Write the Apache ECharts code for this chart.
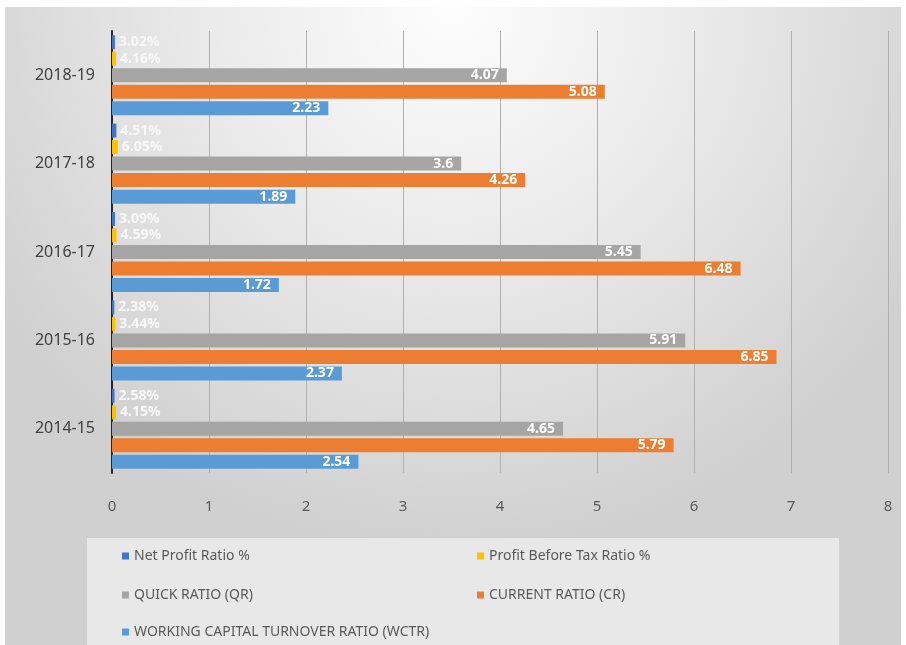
<!DOCTYPE html>
<html>
<head>
<meta charset="utf-8">
<script src="https://cdn.jsdelivr.net/npm/echarts@6/dist/echarts.min.js"></script>
<style>
html,body{margin:0;padding:0;background:#ffffff;}
#c{width:906px;height:645px;}
</style>
</head>
<body>
<div id="c"></div>
<script>
var categories = ['2014-15', '2015-16', '2016-17', '2017-18', '2018-19'];
var netProfitPct = [2.58, 2.38, 3.09, 4.51, 3.02];
var pbtPct = [4.15, 3.44, 4.59, 6.05, 4.16];
var quickRatio = [4.65, 5.91, 5.45, 3.6, 4.07];
var currentRatio = [5.79, 6.85, 6.48, 4.26, 5.08];
var wctr = [2.54, 2.37, 1.72, 1.89, 2.23];
var seriesNames = ['Net Profit Ratio %', 'Profit Before Tax Ratio %', 'QUICK RATIO (QR)', 'CURRENT RATIO (CR)', 'WORKING CAPITAL TURNOVER RATIO (WCTR)'];
var colors = ['#4472C4', '#FFC000', '#A5A5A5', '#ED7D31', '#5B9BD5'];

var FONT = "'Noto Sans', 'Open Sans', sans-serif";

function pctSeries(name, arr, color) {
  return {
    name: name, type: 'bar', barWidth: 14, barGap: '18%',
    itemStyle: {color: color},
    data: arr.map(function (v) { return v / 100; }),
    label: {
      show: true, position: 'right', distance: 4, color: '#f8f8f8',
      fontFamily: FONT, fontSize: 14, fontWeight: 'bold',
      formatter: function (p) { return arr[p.dataIndex].toFixed(2) + '%'; }
    }
  };
}
function valSeries(name, arr, color) {
  return {
    name: name, type: 'bar', barWidth: 14, barGap: '18%',
    itemStyle: {color: color},
    data: arr,
    label: {
      show: true, position: 'insideRight', distance: 8, color: '#ffffff',
      fontFamily: FONT, fontSize: 14, fontWeight: 'bold',
      formatter: function (p) { return String(p.value); }
    }
  };
}

var legendPos = [
  {left: 117, top: 544},
  {left: 472, top: 544},
  {left: 117, top: 583},
  {left: 472, top: 583},
  {left: 117, top: 620}
];
var legends = seriesNames.map(function (n, i) {
  return {
    data: [n], left: legendPos[i].left, top: legendPos[i].top,
    icon: 'rect', itemWidth: 7, itemHeight: 7,
    textStyle: {fontFamily: FONT, fontSize: 14, color: '#595959'},
    selectedMode: false
  };
});

var chart = echarts.init(document.getElementById('c'));
chart.setOption({
  backgroundColor: '#ffffff',
  animation: false,
  graphic: [
    {type: 'rect', z: -100, shape: {x: 5, y: 7, width: 896, height: 640},
     style: {fill: {type: 'radial', x: 0.5, y: 0.0, r: 0.85,
       colorStops: [{offset: 0, color: '#fdfdfd'}, {offset: 0.5, color: '#e8e8e8'}, {offset: 1, color: '#d0d0d0'}]}}},
    {type: 'rect', z: -90, shape: {x: 87, y: 538, width: 752, height: 110},
     style: {fill: 'rgba(238,238,238,0.8)'}}
  ],
  legend: legends,
  grid: {left: 112, top: 31, width: 776, height: 442, containLabel: false},
  xAxis: {
    type: 'value', min: 0, max: 8, interval: 1,
    axisLine: {show: false}, axisTick: {show: false},
    splitLine: {show: true, lineStyle: {color: '#b0b0b0', width: 1}},
    axisLabel: {margin: 26, fontFamily: FONT, fontSize: 15, color: '#595959'}
  },
  yAxis: {
    type: 'category', data: categories,
    axisLine: {show: true, lineStyle: {color: '#262626', width: 2}},
    axisTick: {show: false},
    axisLabel: {margin: 17, fontFamily: FONT, fontSize: 16, color: '#404040'}
  },
  series: [
    pctSeries(seriesNames[0], netProfitPct, colors[0]),
    pctSeries(seriesNames[1], pbtPct, colors[1]),
    valSeries(seriesNames[2], quickRatio, colors[2]),
    valSeries(seriesNames[3], currentRatio, colors[3]),
    valSeries(seriesNames[4], wctr, colors[4])
  ]
});
</script>
</body>
</html>
